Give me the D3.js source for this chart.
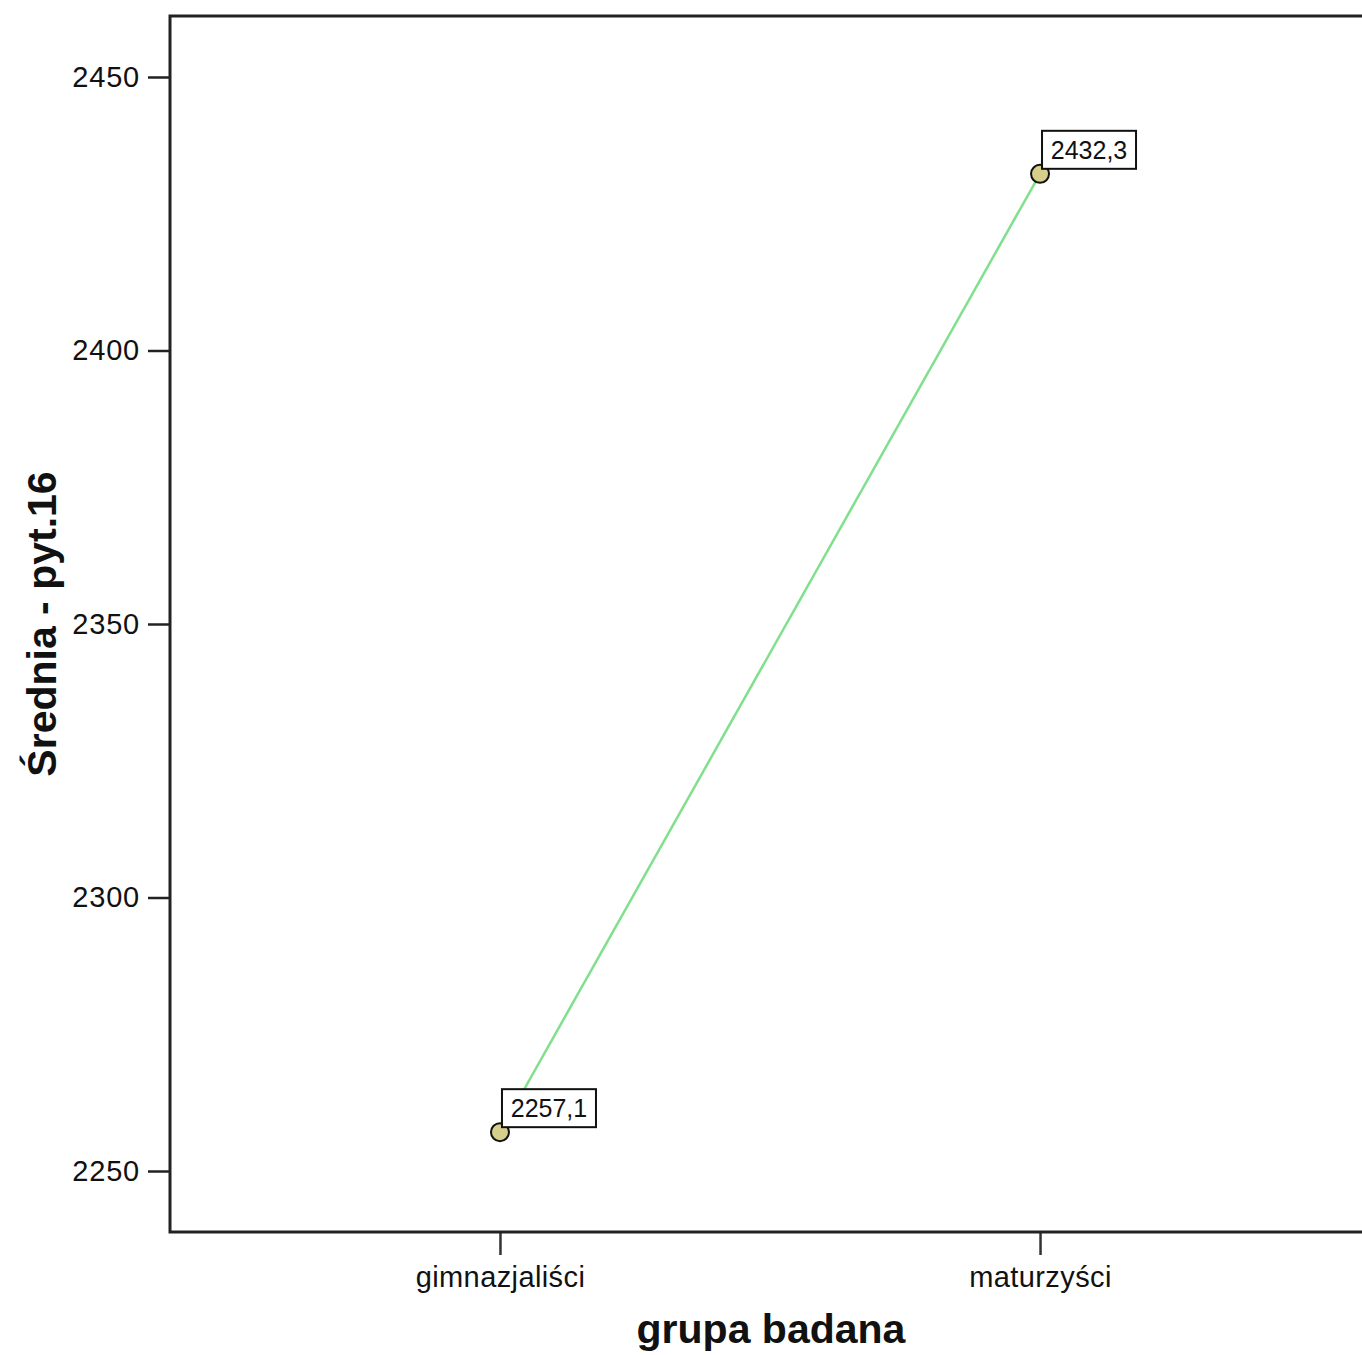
<!DOCTYPE html>
<html>
<head>
<meta charset="utf-8">
<script src="https://cdn.jsdelivr.net/npm/d3@7"></script>
<style>
  html, body { margin: 0; padding: 0; background: #fff; }
  svg { display: block; }
  text { font-family: "Liberation Sans", Arial, sans-serif; fill: #111; }
</style>
</head>
<body>
<svg id="chart" width="1362" height="1355"></svg>
<script>
const categories = ["gimnazjaliści", "maturzyści"];
const means = [2257.1, 2432.3];
const meanLabels = ["2257,1", "2432,3"];
const yTicks = [2250, 2300, 2350, 2400, 2450];
const xTitle = "grupa badana";
const yTitle = "Średnia - pyt.16";

const svg = d3.select("#chart");
const m = { left: 170, top: 16, right: 1370, bottom: 1232 };

const y = d3.scaleLinear().domain([2238.85, 2461.15]).range([m.bottom, m.top]);
const x = d3.scalePoint().domain(categories).range([m.left, m.right]).padding(0.611);

// Y axis
const yAxis = svg.append("g")
  .attr("transform", `translate(${m.left},0)`)
  .call(d3.axisLeft(y).tickValues(yTicks).tickSize(22).tickPadding(8).tickFormat(d3.format("d")));
yAxis.select(".domain").remove();
yAxis.selectAll(".tick line").attr("stroke", "#222").attr("stroke-width", 2.5);
yAxis.selectAll(".tick text").attr("font-size", 29).attr("letter-spacing", "0.8px")
  .attr("font-family", "Liberation Sans, Arial, sans-serif").attr("fill", "#111");

// X axis
const xAxis = svg.append("g")
  .attr("transform", `translate(0,${m.bottom})`)
  .call(d3.axisBottom(x).tickSize(23).tickPadding(11));
xAxis.select(".domain").remove();
xAxis.selectAll(".tick line").attr("stroke", "#333").attr("stroke-width", 2.5);
xAxis.selectAll(".tick text").attr("font-size", 29).attr("letter-spacing", "0.4px")
  .attr("font-family", "Liberation Sans, Arial, sans-serif").attr("fill", "#111");

// Frame
svg.append("path")
  .attr("d", `M${m.right},${m.top}H${m.left}V${m.bottom}H${m.right}`)
  .attr("fill", "none").attr("stroke", "#222").attr("stroke-width", 3);

// Line
const pts = categories.map((c, i) => ({ c, v: means[i], lab: meanLabels[i] }));
svg.append("path")
  .datum(pts)
  .attr("d", d3.line().x(d => x(d.c)).y(d => y(d.v)))
  .attr("fill", "none").attr("stroke", "#80e08c").attr("stroke-width", 2.5);

// Points
svg.selectAll("circle.pt").data(pts).enter().append("circle")
  .attr("class", "pt")
  .attr("cx", d => x(d.c)).attr("cy", d => y(d.v)).attr("r", 9)
  .attr("fill", "#d6cf8c").attr("stroke", "#111").attr("stroke-width", 2);

// Labels
const lab = svg.selectAll("g.lab").data(pts).enter().append("g")
  .attr("class", "lab")
  .attr("transform", d => `translate(${x(d.c) + 2},${y(d.v) - 3})`);
lab.append("rect")
  .attr("x", 0).attr("y", -40).attr("width", 94).attr("height", 38)
  .attr("fill", "#fff").attr("stroke", "#111").attr("stroke-width", 2);
lab.append("text")
  .attr("x", 47).attr("y", -12).attr("text-anchor", "middle")
  .attr("font-size", 25).text(d => d.lab);

// Axis titles
svg.append("text")
  .attr("x", 771).attr("y", 1343).attr("text-anchor", "middle")
  .attr("font-size", 41).attr("font-weight", "bold").text(xTitle);
svg.append("text")
  .attr("transform", `translate(56,624) rotate(-90)`)
  .attr("text-anchor", "middle")
  .attr("font-size", 41).attr("font-weight", "bold").text(yTitle);
</script>
</body>
</html>
